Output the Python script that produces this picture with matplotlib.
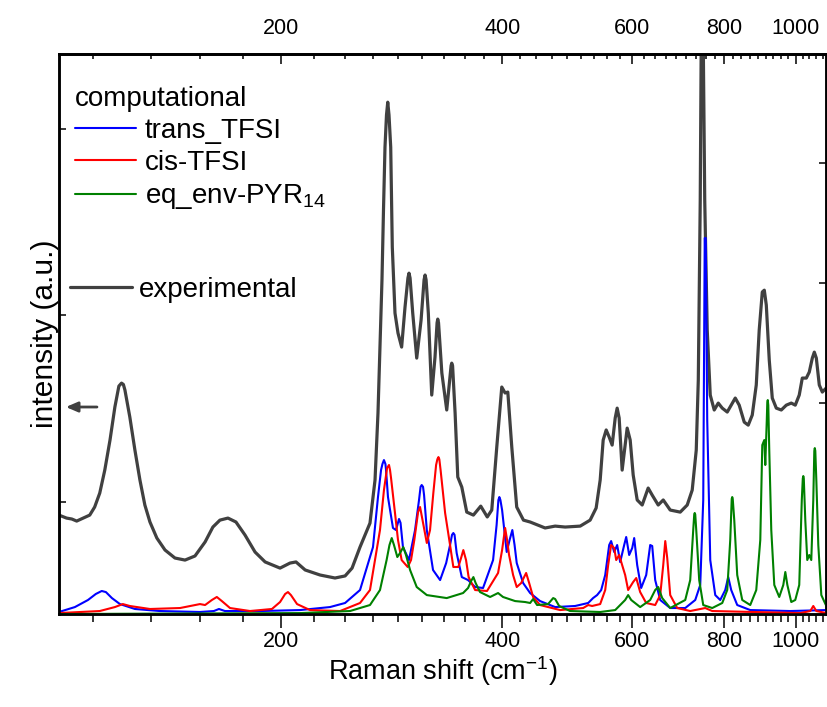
import matplotlib.pyplot as plt
from matplotlib.ticker import FixedLocator, NullFormatter, NullLocator

plt.rcParams['font.family'] = ['Liberation Sans', 'DejaVu Sans']
plt.rcParams['mathtext.fontset'] = 'custom'
plt.rcParams['mathtext.rm'] = 'Liberation Sans'
plt.rcParams['mathtext.it'] = 'Liberation Sans:italic'
plt.rcParams['lines.solid_joinstyle'] = 'round'
plt.rcParams['lines.solid_capstyle'] = 'round'

# experimental Raman spectrum (left axis, a.u.)
exp_shift = [100.0, 102.4, 104.1, 105.7, 107.9, 110.1, 111.8, 113.6, 115.4, 117.3,
             119.1, 120.6, 121.6, 122.3, 122.9, 124.8, 126.8, 128.8, 130.8, 132.9, 135.8,
             139.3, 143.7, 148.3, 153.0, 157.9, 161.8, 165.4, 169.6, 173.9, 178.9,
             184.6, 190.5, 199.6, 205.9, 209.8, 215.9, 226.2, 237.0, 244.6, 250.0,
             256.3, 264.4, 268.6, 271.1, 274.5, 275.8, 277.1, 278.4, 279.5, 280.6, 282.1,
             283.5, 285.9, 288.6, 291.9, 295.0, 297.7, 298.7, 299.7, 302.2, 306.0,
             310.2, 313.1, 314.1, 315.1, 317.3, 320.7, 324.0, 326.1, 326.8, 327.6,
             331.0, 336.1, 340.7, 341.4, 342.3, 345.0, 347.9, 352.3, 357.8, 365.3,
             373.8, 381.5, 386.9, 393.0, 399.2, 403.4, 406.8, 411.9, 418.3, 427.2,
             436.2, 457.1, 471.7, 486.7, 510.1, 526.2, 536.2, 543.0, 548.1, 553.3,
             558.5, 563.7, 569.1, 572.6, 576.2, 581.6, 587.1, 590.8, 596.4, 602.0,
             609.6, 619.2, 630.9, 638.9, 651.0, 661.3, 675.9, 697.4, 712.8, 724.0,
             733.2, 737.9, 742.4, 744.7, 749.4, 752.9, 758.8, 766.0, 775.6, 785.4,
             795.3, 807.8, 817.9, 828.3, 838.6, 851.9, 862.6, 873.5, 884.5, 892.7,
             901.3, 907.0, 912.7, 921.2, 929.9, 941.7, 956.5, 971.6, 986.8, 999.2,
             1011.7, 1021.4, 1034.3, 1043.9, 1053.9, 1060.5, 1067.2, 1077.1, 1087.4, 1101.0]
exp_int = [0.930, 0.914, 0.909, 0.898, 0.914, 0.930, 0.973, 1.048, 1.171, 1.332,
           1.509, 1.621, 1.637, 1.630, 1.600, 1.455, 1.278, 1.118, 0.984, 0.893, 0.807,
           0.743, 0.700, 0.689, 0.711, 0.786, 0.866, 0.903, 0.914, 0.893, 0.823,
           0.732, 0.679, 0.646, 0.673, 0.679, 0.636, 0.609, 0.593, 0.604, 0.646,
           0.759, 0.887, 1.118, 1.477, 2.189, 2.564, 2.901, 3.073, 3.142, 3.073, 2.901,
           2.366, 2.012, 1.905, 1.830, 2.044, 2.200, 2.226, 2.200, 2.012, 1.771,
           1.975, 2.190, 2.216, 2.190, 2.012, 1.573, 1.777, 1.960, 1.980, 1.960,
           1.691, 1.493, 1.730, 1.744, 1.730, 1.477, 1.134, 1.080, 0.946, 0.930,
           0.978, 0.920, 0.957, 1.294, 1.616, 1.584, 1.589, 1.294, 0.973, 0.903,
           0.893, 0.861, 0.871, 0.866, 0.871, 0.903, 0.968, 1.118, 1.332, 1.386,
           1.348, 1.305, 1.450, 1.503, 1.450, 1.171, 1.305, 1.396, 1.332, 1.145,
           1.011, 0.984, 1.075, 1.037, 0.984, 1.011, 0.957, 0.946, 0.984, 1.064,
           1.278, 1.653, 2.617, 3.474, 3.474, 2.617, 1.921, 1.573, 1.493, 1.530,
           1.503, 1.482, 1.519, 1.557, 1.519, 1.428, 1.412, 1.466, 1.627, 1.921,
           2.125, 2.135, 2.055, 1.760, 1.557, 1.503, 1.493, 1.519, 1.530, 1.519,
           1.573, 1.664, 1.664, 1.696, 1.771, 1.803, 1.771, 1.627, 1.589, 1.611]

# computed spectra (right axis, a.u.)
trans_shift = [100.0, 105.1, 109.5, 112.2, 114.3, 115.8, 118.0, 121.0, 126.8, 137.1,
               155.4, 162.3, 164.9, 168.0, 187.5, 212.5, 233.3, 244.6, 256.3, 266.9,
               271.1, 273.7, 274.9, 276.2, 277.5, 278.0, 279.7, 284.1, 286.8, 289.5, 290.9,
               293.1, 298.7, 304.4, 308.2, 309.7, 310.8, 312.1, 313.1, 315.8, 322.0,
               329.2, 335.5, 339.6, 341.7, 343.1, 344.4, 346.7, 352.3, 359.3, 367.3,
               376.5, 388.5, 392.8, 395.0, 396.2, 397.5, 399.6, 405.4, 409.1, 412.6,
               415.5, 418.3, 426.8, 436.2, 450.0, 471.7, 502.1, 523.0, 531.1, 537.8,
               544.7, 551.6, 558.5, 561.9, 567.3, 572.6, 578.0, 585.3, 589.0, 594.5,
               600.2, 603.9, 609.6, 617.2, 627.0, 634.9, 638.9, 644.9, 655.1, 675.9,
               708.4, 730.9, 742.4, 749.4, 752.9, 755.3, 758.8, 766.0, 778.1, 790.3,
               802.8, 810.3, 817.9, 833.4, 868.0, 983.7, 1101.0]
trans_int = [0.017, 0.058, 0.117, 0.167, 0.192, 0.183, 0.133, 0.083, 0.042, 0.025,
             0.017, 0.025, 0.042, 0.025, 0.025, 0.033, 0.058, 0.092, 0.200, 0.558,
             0.975, 1.200, 1.250, 1.283, 1.250, 1.200, 0.975, 0.717, 0.700, 0.792, 0.760,
             0.558, 0.450, 0.700, 0.950, 1.060, 1.075, 1.060, 0.992, 0.700, 0.367,
             0.283, 0.425, 0.575, 0.660, 0.675, 0.660, 0.508, 0.308, 0.283, 0.225,
             0.217, 0.450, 0.742, 0.950, 0.975, 0.950, 0.867, 0.517, 0.617, 0.700,
             0.575, 0.425, 0.258, 0.175, 0.108, 0.058, 0.067, 0.092, 0.133, 0.158,
             0.200, 0.325, 0.575, 0.608, 0.517, 0.575, 0.433, 0.575, 0.642, 0.492,
             0.550, 0.633, 0.408, 0.217, 0.325, 0.575, 0.567, 0.283, 0.117, 0.050,
             0.050, 0.117, 0.242, 0.950, 3.133, 3.133, 1.617, 0.450, 0.158, 0.117,
             0.200, 0.308, 0.200, 0.075, 0.033, 0.025, 0.033]

cis_shift = [100.0, 113.6, 119.1, 122.1, 124.8, 132.9, 146.0, 155.4, 157.9, 161.3,
             163.8, 166.4, 170.7, 181.7, 194.6, 199.6, 202.8, 204.6, 206.5, 210.5,
             219.2, 240.8, 256.3, 264.4, 272.8, 276.2, 278.9, 280.6, 281.5, 282.4, 285.9,
             288.6, 291.9, 297.5, 300.6, 303.7, 307.3, 309.2, 311.6, 315.8, 319.0,
             322.3, 325.1, 326.4, 327.5, 328.4, 329.7, 334.4, 339.6, 343.1, 348.5,
             351.5, 354.0, 357.0, 359.9, 367.3, 381.2, 394.6, 399.6, 403.4, 405.9,
             408.4, 413.6, 418.3, 424.1, 430.8, 434.9, 440.3, 450.0, 479.1, 514.9,
             523.0, 529.5, 543.0, 551.6, 556.7, 561.9, 567.3, 570.9, 576.2, 581.6,
             587.1, 592.6, 602.0, 607.8, 615.3, 627.0, 644.9, 655.1, 661.3, 665.5,
             669.6, 675.9, 690.8, 719.5, 754.1, 770.8, 1015.0, 1047.3, 1057.1, 1067.2,
             1101.0]
cis_int = [0.008, 0.025, 0.058, 0.083, 0.067, 0.042, 0.050, 0.083, 0.075, 0.117,
           0.142, 0.108, 0.050, 0.025, 0.042, 0.100, 0.167, 0.183, 0.158, 0.083,
           0.033, 0.025, 0.092, 0.200, 0.700, 1.033, 1.217, 1.242, 1.200, 1.133, 0.842,
           0.617, 0.450, 0.392, 0.450, 0.617, 0.850, 0.892, 0.783, 0.592, 0.700,
           1.008, 1.242, 1.290, 1.308, 1.290, 1.200, 0.842, 0.575, 0.392, 0.392,
           0.467, 0.533, 0.450, 0.308, 0.200, 0.192, 0.342, 0.533, 0.717, 0.617,
           0.492, 0.325, 0.225, 0.258, 0.342, 0.258, 0.142, 0.075, 0.033, 0.050,
           0.075, 0.067, 0.083, 0.200, 0.408, 0.575, 0.550, 0.450, 0.492, 0.408,
           0.325, 0.200, 0.267, 0.300, 0.183, 0.092, 0.075, 0.158, 0.408, 0.608,
           0.467, 0.158, 0.050, 0.025, 0.050, 0.025, 0.008, 0.025, 0.067, 0.025,
           0.008]

pyr_shift = [100.0, 212.5, 248.4, 264.4, 272.8, 278.5, 281.0, 283.0, 285.0, 288.0,
             290.4, 293.4, 295.9, 299.7, 306.0, 315.8, 336.1, 353.7, 359.3, 362.7,
             365.3, 367.9, 373.0, 384.9, 394.6, 400.8, 416.2, 429.5, 436.2, 440.3,
             445.8, 461.4, 468.8, 471.7, 477.6, 494.3, 543.0, 569.1, 587.1, 592.6,
             598.3, 615.3, 634.9, 644.9, 651.0, 659.2, 675.9, 708.4, 719.5, 726.3,
             728.6, 729.7, 730.9, 733.2, 740.0, 749.4, 770.8, 795.3, 807.8, 815.4,
             819.2, 820.5, 821.8, 825.7, 833.4, 846.6, 868.0, 884.5, 895.7, 901.3,
             907.0, 909.8, 914.1, 915.5, 916.9, 918.4, 921.2, 927.0, 935.8, 950.4,
             962.5, 968.6, 974.8, 986.8, 999.2, 1011.7, 1019.8, 1023.0, 1024.6, 1026.2,
             1031.0, 1037.4, 1043.9, 1050.5, 1057.1, 1060.5, 1062.1, 1063.8, 1067.2, 1073.8,
             1084.0, 1101.0]
pyr_int = [0.000, 0.008, 0.025, 0.075, 0.200, 0.450, 0.575, 0.633, 0.575, 0.475,
           0.508, 0.558, 0.492, 0.367, 0.225, 0.158, 0.133, 0.175, 0.217, 0.275,
           0.308, 0.258, 0.183, 0.142, 0.175, 0.142, 0.108, 0.100, 0.092, 0.125,
           0.075, 0.083, 0.133, 0.125, 0.067, 0.025, 0.017, 0.033, 0.117, 0.158,
           0.117, 0.058, 0.117, 0.200, 0.225, 0.133, 0.050, 0.117, 0.283, 0.700,
           0.830, 0.842, 0.830, 0.700, 0.283, 0.075, 0.050, 0.092, 0.200, 0.617,
           0.960, 0.975, 0.960, 0.783, 0.325, 0.117, 0.075, 0.200, 0.617, 1.408,
           1.450, 1.242, 1.617, 1.760, 1.783, 1.740, 1.367, 0.700, 0.242, 0.142,
           0.242, 0.350, 0.242, 0.100, 0.117, 0.242, 0.950, 1.130, 1.150, 1.130,
           0.783, 0.450, 0.492, 0.450, 0.950, 1.360, 1.383, 1.360, 1.117, 0.575,
           0.158, 0.067]

major_ticks = [200, 400, 600, 800, 1000]
minor_ticks = [k * 200 / 9 for k in range(5, 50) if k % 9]

fig = plt.figure(figsize=(8.27, 7.07), dpi=100)
ax = fig.add_axes([0.0713, 0.1315, 0.9275, 0.7921])
ax2 = ax.twinx()

ax.plot(exp_shift, exp_int, color='#404040', lw=2.3, label='experimental')
h1, = ax2.plot(trans_shift, trans_int, color='#0000ff', lw=1.5, label='trans_TFSI')
h2, = ax2.plot(cis_shift, cis_int, color='#ff0000', lw=1.5, label='cis-TFSI')
h3, = ax2.plot(pyr_shift, pyr_int, color='#008000', lw=1.5, label='eq_env-PYR$_{14}$')

ax.set_xscale('log')
ax.set_xlim(100, 1100)
ax.set_ylim(0.4, 3.4)
ax2.set_ylim(0, 4.667)

ax.xaxis.set_major_locator(FixedLocator(major_ticks))
ax.xaxis.set_minor_locator(FixedLocator(minor_ticks))
ax.xaxis.set_minor_formatter(NullFormatter())
ax.set_xticklabels([str(t) for t in major_ticks])
ax.tick_params(axis='x', which='major', direction='out', length=10, width=1.1,
               labelsize=15.5, pad=2, top=False)
ax.tick_params(axis='x', which='minor', direction='out', length=5.5, width=1.1, top=False)

top = ax.secondary_xaxis('top', functions=(lambda x: x, lambda x: x))
top.xaxis.set_major_locator(FixedLocator(major_ticks))
top.xaxis.set_minor_locator(FixedLocator(minor_ticks))
top.xaxis.set_minor_formatter(NullFormatter())
top.set_xticks(major_ticks, labels=[str(t) for t in major_ticks])
top.tick_params(axis='x', which='major', direction='in', length=7, width=1.1,
                labelsize=15.5, pad=11)
top.tick_params(axis='x', which='minor', direction='in', length=3.6, width=1.1)
top.spines['top'].set_linewidth(1.8)

ax.set_yticks([1, 2, 3])
ax.yaxis.set_minor_locator(NullLocator())
ax.tick_params(axis='y', direction='in', length=5, width=1.1, labelleft=False)
ax2.set_yticks([1.76, 2.76, 3.76])
ax2.yaxis.set_minor_locator(NullLocator())
ax2.tick_params(axis='y', direction='in', length=5, width=1.1, labelright=False)

for a in (ax, ax2):
    for s in a.spines.values():
        s.set_linewidth(1.8)

ax.set_xlabel('Raman shift (cm$^{-1}$)', fontsize=19.5, labelpad=1.5)
ax.set_ylabel('intensity (a.u.)', fontsize=21.5, labelpad=0)

# arrow marks the axis used by the experimental curve
ax.annotate('', xy=(101.3, 1.509), xytext=(113.6, 1.509),
            arrowprops=dict(arrowstyle='-|>,head_length=0.7,head_width=0.3',
                            color='#404040', lw=2))

leg1 = ax2.legend(handles=[h1, h2, h3], title='computational', loc='upper left',
                  bbox_to_anchor=(0.021, 0.943), frameon=False, alignment='left',
                  fontsize=20, title_fontsize=20, handlelength=2.2,
                  handletextpad=0.3, labelspacing=0.22, borderaxespad=0, borderpad=0)
ax.legend(loc='upper left', bbox_to_anchor=(0.014, 0.602), frameon=False,
          fontsize=20, handlelength=2.25, handletextpad=0.25, borderaxespad=0, borderpad=0)

fig.savefig('out.png', dpi=100)
